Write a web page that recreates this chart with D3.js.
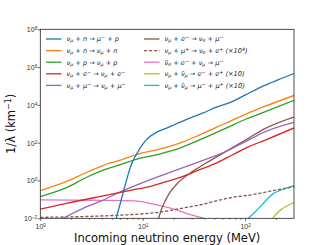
<!DOCTYPE html>
<html>
<head>
<meta charset="UTF-8">
<title>Neutrino inverse mean free path</title>
<script src="https://cdn.jsdelivr.net/npm/d3@7"></script>
<style>
    body { margin: 0; background: #fff; }
    svg { font-family: "DejaVu Sans", sans-serif; }
    .leg { font-size: 6.6px; font-style: italic; }
</style>
</head>
<body>
<svg id="chart" width="327" height="245"></svg>
<script>
// values, log10(E / MeV) and log10(1/lambda / km^-1)
var ccnLogE  = [0.741, 0.79, 0.838, 0.887, 0.935, 0.984, 1.032, 1.129, 1.227, 1.324, 1.453, 1.583, 1.712, 1.874, 2.003, 2.197, 2.359, 2.477];
var ccnLogV  = [-2, -1.03, -0.06, 0.82, 1.35, 1.79, 2.14, 2.53, 2.76, 2.99, 3.29, 3.56, 3.87, 4.17, 4.53, 5.05, 5.41, 5.66];
var ncnLogE  = [0, 0.256, 0.463, 0.676, 0.806, 0.968, 1.162, 1.356, 1.55, 1.809, 2.003, 2.197, 2.477];
var ncnLogV  = [-0.54, -0.05, 0.45, 0.92, 1.12, 1.42, 1.66, 1.97, 2.4, 3.03, 3.5, 3.93, 4.5];
var ncpLogE  = [0, 0.256, 0.463, 0.579, 0.741, 0.968, 1.162, 1.356, 1.55, 1.809, 2.003, 2.197, 2.477];
var ncpLogV  = [-0.85, -0.38, 0.2, 0.47, 0.77, 1.17, 1.4, 1.7, 2.14, 2.76, 3.24, 3.64, 4.24];
var esLogE   = [0, 0.256, 0.579, 0.903, 1.065, 1.227, 1.388, 1.55, 1.712, 1.874, 2.036, 2.197, 2.477];
var esLogV   = [-1.52, -1.21, -0.85, -0.5, -0.32, -0.06, 0.2, 0.56, 0.91, 1.35, 1.79, 2.14, 2.78];
var musLogE  = [0.223, 0.417, 0.579, 0.806, 1.0, 1.227, 1.421, 1.615, 1.809, 2.003, 2.197, 2.477];
var musLogV  = [-2, -1.47, -1.12, -0.54, -0.11, 0.35, 0.73, 1.12, 1.53, 2.06, 2.59, 3.08];
var imdLogE  = [1.155, 1.175, 1.194, 1.259, 1.356, 1.485, 1.615, 1.809, 2.003, 2.197, 2.477];
var imdLogV  = [-2, -1.65, -1.38, -0.68, -0.06, 0.47, 0.91, 1.53, 2.14, 2.76, 3.36];
var mupLogE  = [0, 0.58, 0.9, 1.2, 1.4, 1.55, 1.7, 1.87, 2.07, 2.26, 2.477];
var mupLogV  = [-1.95, -1.88, -1.8, -1.65, -1.45, -1.3, -1.1, -0.9, -0.75, -0.55, -0.33];
var antiLogE = [0, 0.6, 0.92, 1.05, 1.15, 1.243, 1.33, 1.405, 1.5, 1.6];
var antiLogV = [-1.03, -1.05, -1.08, -1.18, -1.3, -1.42, -1.56, -1.7, -1.86, -2];
var eeLogE   = [2.27, 2.3, 2.36, 2.41, 2.477];
var eeLogV   = [-2, -1.8, -1.5, -1.35, -1.17];
var mmLogE   = [2.03, 2.1, 2.17, 2.23, 2.28, 2.33, 2.38, 2.477];
var mmLogV   = [-2, -1.65, -1.25, -0.9, -0.68, -0.55, -0.45, -0.27];

var labels = [
    "ν_{μ} + n → μ^{−} + p",
    "ν_{μ} + n → ν_{μ} + n",
    "ν_{μ} + p → ν_{μ} + p",
    "ν_{μ} + e^{−} → ν_{μ} + e^{−}",
    "ν_{μ} + μ^{−} → ν_{μ} + μ^{−}",
    "ν_{μ} + e^{−} → ν_{e} + μ^{−}",
    "ν_{μ} + μ^{+} → ν_{e} + e^{+} (×10^{4})",
    "ν̄_{e} + e^{−} + ν_{μ} → μ^{−}",
    "ν_{μ} + ν̄_{μ} → e^{−} + e^{+} (×10)",
    "ν_{μ} + ν̄_{μ} → μ^{−} + μ^{+} (×10)"
];
var colors = ["#1f77b4", "#ff7f0e", "#2ca02c", "#d62728", "#9467bd", "#8c564b", "#8c564b", "#e377c2", "#bcbd22", "#17becf"];

var series = [
    [ccnLogE, ccnLogV], [ncnLogE, ncnLogV], [ncpLogE, ncpLogV], [esLogE, esLogV], [musLogE, musLogV],
    [imdLogE, imdLogV], [mupLogE, mupLogV], [antiLogE, antiLogV], [eeLogE, eeLogV], [mmLogE, mmLogV]
].map(function(s, i) {
    return {
        label: labels[i],
        color: colors[i],
        dashed: i === 6,
        points: s[0].map(function(le, j) { return { e: Math.pow(10, le), v: Math.pow(10, s[1][j]) }; })
    };
});

var margin = { top: 29.3, right: 33, bottom: 26.7, left: 40.3 };
var width = 327 - margin.left - margin.right,
    height = 245 - margin.top - margin.bottom;

var svg = d3.select("#chart");
var g = svg.append("g").attr("transform", "translate(" + margin.left + "," + margin.top + ")");

var x = d3.scaleLog().domain([1, 300]).range([0, width]);
var y = d3.scaleLog().domain([1e-2, 1e8]).range([height, 0]);

g.append("clipPath").attr("id", "clip")
    .append("rect").attr("width", width).attr("height", height);

var line = d3.line()
    .x(function(d) { return x(d.e); })
    .y(function(d) { return y(d.v); })
    .curve(d3.curveMonotoneX);

g.append("g").attr("clip-path", "url(#clip)")
    .selectAll("path")
    .data(series.slice().reverse())
    .enter().append("path")
    .attr("fill", "none")
    .attr("stroke", function(d) { return d.color; })
    .attr("stroke-width", 1.3)
    .attr("stroke-dasharray", function(d) { return d.dashed ? "3.2,1.8" : null; })
    .attr("d", function(d) { return line(d.points); });

// write "a_{b}^{c}" as tspans
function rich(sel, str, supSize) {
    var parts = str.split(/(_\{[^}]*\}|\^\{[^}]*\})/);
    parts.forEach(function(p) {
        if (!p) return;
        if (p[0] === "_") {
            sel.append("tspan").attr("baseline-shift", "-25%").attr("font-size", supSize).text(p.slice(2, -1));
        } else if (p[0] === "^") {
            sel.append("tspan").attr("baseline-shift", "45%").attr("font-size", supSize).text(p.slice(2, -1));
        } else {
            sel.append("tspan").text(p);
        }
    });
}

// axes
var xAxis = d3.axisBottom(x).tickValues([1, 10, 100]).tickSize(2.5).tickFormat("");
var xMinor = d3.axisBottom(x)
    .tickValues(d3.range(1, 4).flatMap(function(k) { return d3.range(2, 10).map(function(m) { return m * Math.pow(10, k - 1); }); }).filter(function(v) { return v < 300; }))
    .tickSize(1.4).tickFormat("");
var yAxis = d3.axisLeft(y).tickValues([1e-2, 1, 1e2, 1e4, 1e6, 1e8]).tickSize(2.5).tickFormat("");

g.append("g").attr("transform", "translate(0," + height + ")").call(xMinor).call(function(a) { a.select(".domain").remove(); });
var xa = g.append("g").attr("transform", "translate(0," + height + ")").call(xAxis);
var ya = g.append("g").call(yAxis);
[xa, ya].forEach(function(a) { a.select(".domain").remove(); });
g.selectAll(".tick line").attr("stroke", "#000").attr("stroke-width", 0.6);

var xExp = { 1: "0", 10: "1", 100: "2" };
xa.selectAll(".tick").each(function(d) {
    var t = d3.select(this).append("text")
        .attr("y", 10.5).attr("text-anchor", "middle").attr("fill", "#333").attr("font-size", 7);
    rich(t, "10^{" + xExp[d] + "}", 4.8);
});
ya.selectAll(".tick").each(function(d) {
    var e = Math.round(Math.log10(d));
    var t = d3.select(this).append("text")
        .attr("x", -3).attr("dy", "0.35em").attr("text-anchor", "end").attr("fill", "#333").attr("font-size", 7);
    rich(t, "10^{" + (e < 0 ? "−" + (-e) : e) + "}", 4.8);
});

g.append("rect")
    .attr("width", width).attr("height", height)
    .attr("fill", "none").attr("stroke", "#222").attr("stroke-width", 0.8);

// legend
var legend = g.selectAll(".legrow")
    .data(series)
    .enter().append("g")
    .attr("transform", function(d, i) {
        var col = i < 5 ? 0 : 1, row = i % 5;
        return "translate(" + (col === 0 ? 5.7 : 103.7) + "," + (9.7 + row * 11.6) + ")";
    });

legend.append("line")
    .attr("x1", 0).attr("x2", 15.5)
    .attr("stroke", function(d) { return d.color; })
    .attr("stroke-width", 1.3)
    .attr("stroke-dasharray", function(d) { return d.dashed ? "3.2,1.8" : null; });

legend.append("text")
    .attr("class", "leg")
    .attr("x", 20.5).attr("dy", "0.35em")
    .attr("fill", "#222")
    .each(function(d) { rich(d3.select(this), d.label, 4.8); });

// axis titles
svg.append("text")
    .attr("x", margin.left + width / 2).attr("y", 242)
    .attr("text-anchor", "middle").attr("font-size", 11.5).attr("fill", "#111")
    .text("Incoming neutrino energy (MeV)");

var yl = svg.append("text")
    .attr("transform", "translate(14.5," + (margin.top + height / 2) + ") rotate(-90)")
    .attr("text-anchor", "middle").attr("font-size", 11.5).attr("fill", "#111");
rich(yl, "1/λ (km^{−1})", 8);
</script>
</body>
</html>
